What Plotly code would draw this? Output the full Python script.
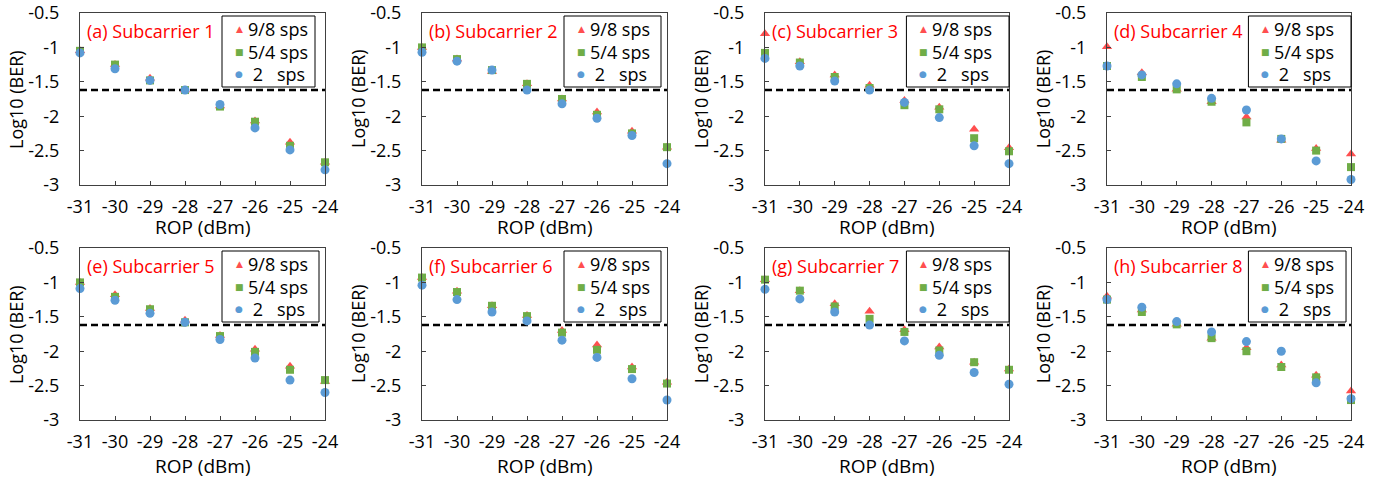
import plotly.graph_objects as go

rop = [-31, -30, -29, -28, -27, -26, -25, -24]
fec = -1.62

sc1_98 = [-1.05, -1.25, -1.45, -1.62, -1.85, -2.07, -2.38, -2.67]
sc1_54 = [-1.05, -1.25, -1.48, -1.62, -1.86, -2.08, -2.43, -2.67]
sc1_2 = [-1.08, -1.31, -1.48, -1.62, -1.83, -2.17, -2.49, -2.78]

sc2_98 = [-1.00, -1.17, -1.35, -1.53, -1.75, -1.94, -2.22, -2.45]
sc2_54 = [-1.00, -1.17, -1.33, -1.53, -1.75, -1.98, -2.25, -2.45]
sc2_2 = [-1.07, -1.20, -1.33, -1.62, -1.82, -2.03, -2.28, -2.69]

sc3_98 = [-0.80, -1.21, -1.40, -1.55, -1.77, -1.87, -2.19, -2.46]
sc3_54 = [-1.08, -1.22, -1.43, -1.59, -1.84, -1.90, -2.32, -2.51]
sc3_2 = [-1.16, -1.27, -1.49, -1.62, -1.80, -2.02, -2.43, -2.69]

sc4_98 = [-0.99, -1.37, -1.61, -1.79, -2.01, -2.35, -2.47, -2.55]
sc4_54 = [-1.27, -1.43, -1.61, -1.79, -2.09, -2.33, -2.50, -2.74]
sc4_2 = [-1.27, -1.40, -1.53, -1.74, -1.91, -2.33, -2.65, -2.92]

sc5_98 = [-1.00, -1.18, -1.38, -1.55, -1.77, -1.97, -2.22, -2.44]
sc5_54 = [-1.00, -1.21, -1.39, -1.58, -1.78, -2.01, -2.27, -2.42]
sc5_2 = [-1.09, -1.26, -1.45, -1.58, -1.83, -2.10, -2.42, -2.60]

sc6_98 = [-0.93, -1.13, -1.34, -1.48, -1.70, -1.91, -2.23, -2.45]
sc6_54 = [-0.93, -1.14, -1.34, -1.49, -1.73, -1.98, -2.26, -2.47]
sc6_2 = [-1.04, -1.25, -1.43, -1.56, -1.84, -2.09, -2.40, -2.71]

sc7_98 = [-0.96, -1.12, -1.31, -1.42, -1.69, -1.94, -2.16, -2.26]
sc7_54 = [-0.96, -1.12, -1.35, -1.53, -1.72, -1.99, -2.16, -2.27]
sc7_2 = [-1.10, -1.24, -1.43, -1.62, -1.85, -2.06, -2.31, -2.48]

sc8_98 = [-1.20, -1.40, -1.61, -1.81, -1.95, -2.20, -2.35, -2.58]
sc8_54 = [-1.25, -1.43, -1.61, -1.81, -2.00, -2.23, -2.38, -2.71]
sc8_2 = [-1.25, -1.36, -1.57, -1.72, -1.86, -2.00, -2.46, -2.69]

panel_titles = ["(a) Subcarrier 1", "(b) Subcarrier 2", "(c) Subcarrier 3", "(d) Subcarrier 4",
                "(e) Subcarrier 5", "(f) Subcarrier 6", "(g) Subcarrier 7", "(h) Subcarrier 8"]
series_names = ["9/8 sps", "5/4 sps", "\u00a02\u00a0\u00a0\u00a0sps"]
legend_glyphs = ["\u25B2", "\u25A0", "\u25CF"]
x_title = "ROP (dBm)"
y_title = "Log10 (BER)"
x_ticks = [-31, -30, -29, -28, -27, -26, -25, -24]
x_ticktext = ["-31", "-30", "-29", "-28", "-27", "-26", "-25", "-24"]
y_ticks = [-0.5, -1, -1.5, -2, -2.5, -3]
y_ticktext = ["-0.5", "-1", "-1.5", "-2", "-2.5", "-3"]

panels = [
    (sc1_98, sc1_54, sc1_2), (sc2_98, sc2_54, sc2_2), (sc3_98, sc3_54, sc3_2), (sc4_98, sc4_54, sc4_2),
    (sc5_98, sc5_54, sc5_2), (sc6_98, sc6_54, sc6_2), (sc7_98, sc7_54, sc7_2), (sc8_98, sc8_54, sc8_2),
]

W, H = 1392, 480
col_px = [(80, 325), (422, 667), (765, 1009), (1107, 1351)]
row_px = [(13, 185), (248, 420)]
x_title_off = [42, 46]
PW = 245
legend_w = [93, 97, 103, 103, 97, 97, 103, 98]

colors = ["#FF4F4F", "#70AD47", "#5B9BD5"]
symbols = ["triangle-up", "square", "circle"]
sizes = [9, 8, 9]
FONT = "Open Sans"

fig = go.Figure()
layout = dict(
    width=W, height=H, margin=dict(l=0, r=0, t=0, b=0, autoexpand=False),
    paper_bgcolor="white", plot_bgcolor="white",
    font=dict(family=FONT, size=18, color="#000000"),
    showlegend=False, annotations=[], shapes=[],
)

for k in range(8):
    r, c = divmod(k, 4)
    n = k + 1
    xa = "x" if n == 1 else f"x{n}"
    ya = "y" if n == 1 else f"y{n}"
    x0, x1 = col_px[c]
    t, b = row_px[r]
    PH = b - t
    xd = [x0 / W, x1 / W]
    yd = [1 - b / H, 1 - t / H]
    xr, yr = f"{xa} domain", f"{ya} domain"

    fig.add_trace(go.Scatter(x=[rop[0], rop[-1]], y=[fec, fec], mode="lines",
                             line=dict(color="black", width=2.5, dash="7px,4px"),
                             xaxis=xa, yaxis=ya, hoverinfo="skip"))
    for s in range(3):
        fig.add_trace(go.Scatter(x=rop, y=panels[k][s], mode="markers",
                                 marker=dict(symbol=symbols[s], size=sizes[s], color=colors[s]),
                                 xaxis=xa, yaxis=ya, cliponaxis=False,
                                 name=series_names[s]))

    axis_common = dict(showline=True, linecolor="#404040", linewidth=1, mirror=True,
                       showgrid=False, zeroline=False, ticks="inside", ticklen=4,
                       tickcolor="#404040", tickfont=dict(family=FONT, size=18),
                       automargin=False, ticklabeloverflow="allow")
    layout["xaxis" if n == 1 else f"xaxis{n}"] = dict(
        axis_common, domain=xd, anchor=ya, range=[-31, -24],
        tickvals=x_ticks, ticktext=x_ticktext, ticklabelstandoff=5)
    layout["yaxis" if n == 1 else f"yaxis{n}"] = dict(
        axis_common, domain=yd, anchor=xa, range=[-3, -0.5],
        tickvals=y_ticks, ticktext=y_ticktext, ticklabelstandoff=16)

    # axis titles
    layout["annotations"].append(dict(
        text=x_title, xref=xr, yref=yr, x=0.5, y=-x_title_off[r] / PH,
        xanchor="center", yanchor="middle",
        showarrow=False, font=dict(family=FONT, size=19)))
    layout["annotations"].append(dict(
        text=y_title, xref=xr, yref=yr, x=-64 / PW, y=0.5, xanchor="center", yanchor="middle",
        textangle=-90, showarrow=False, font=dict(family=FONT, size=18)))
    # panel label
    layout["annotations"].append(dict(
        text=panel_titles[k], xref=xr, yref=yr,
        x=0.02, y=1 - 18 / PH, xanchor="left", yanchor="middle", showarrow=False,
        font=dict(family=FONT, size=18, color="#FF0000")))
    # legend box
    lx0 = 142
    layout["shapes"].append(dict(
        type="rect", xref=xr, yref=yr, x0=lx0 / PW, x1=(lx0 + legend_w[k]) / PW,
        y0=1 - 74 / PH, y1=1 - 3 / PH, fillcolor="white",
        line=dict(color="black", width=1), layer="above"))
    for s in range(3):
        yy = 1 - (16 + 22.5 * s) / PH
        layout["annotations"].append(dict(
            text=legend_glyphs[s], xref=xr, yref=yr, x=(lx0 + 17) / PW, y=yy,
            xanchor="center", yanchor="middle", showarrow=False,
            font=dict(family="DejaVu Sans", size=9, color=colors[s])))
        layout["annotations"].append(dict(
            text=series_names[s], xref=xr, yref=yr, x=(lx0 + 24) / PW, y=yy,
            xanchor="left", yanchor="middle", showarrow=False,
            font=dict(family=FONT, size=18)))

fig.update_layout(**layout)
fig.write_html("out.html")
